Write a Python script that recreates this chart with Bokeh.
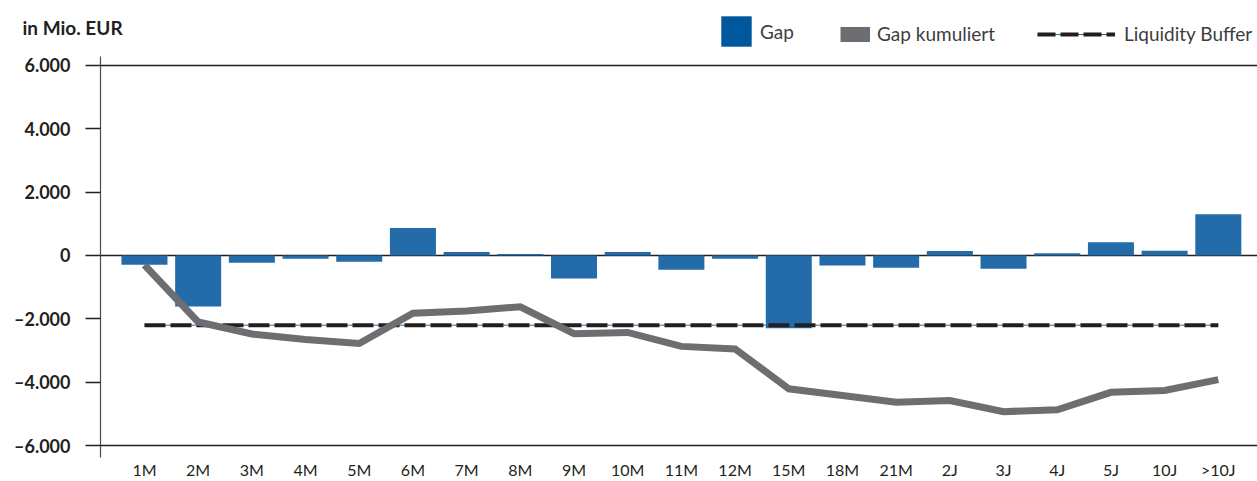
from bokeh.plotting import figure
from bokeh.models import Range1d, FixedTicker, Legend, LegendItem, Label, ColumnDataSource
from bokeh.embed import file_html
from bokeh.resources import INLINE

categories = ["1M", "2M", "3M", "4M", "5M", "6M", "7M", "8M", "9M", "10M", "11M",
              "12M", "15M", "18M", "21M", "2J", "3J", "4J", "5J", "10J", ">10J"]
gap = [-290, -1610, -230, -100, -200, 870, 110, 50, -730, 110, -450,
       -100, -2300, -320, -390, 140, -420, 70, 420, 150, 1300]
gap_kumuliert = [-300, -2100, -2480, -2650, -2780, -1820, -1750, -1620, -2470, -2430, -2870,
                 -2950, -4210, -4420, -4630, -4580, -4930, -4870, -4320, -4260, -3920]
liquidity_buffer = -2200
y_ticks = [-6000, -4000, -2000, 0, 2000, 4000, 6000]
y_tick_labels = ["–6.000", "–4.000", "–2.000", "0", "2.000", "4.000", "6.000"]

idx = list(range(len(categories)))
src = ColumnDataSource(dict(x=idx, gap=gap, cum=gap_kumuliert,
                            buf=[liquidity_buffer] * len(idx)))

FONT = "Lato"
DARK = "#231f20"
BAR = "#236ca9"
GREY = "#6d6e71"
DASH = "21 5"

# ---------------- header (unit title + legend) ----------------
h = figure(width=1257, height=50, output_backend="svg", toolbar_location=None,
           x_axis_type=None, y_axis_type=None,
           x_range=Range1d(0, 1), y_range=Range1d(0, 1),
           min_border_left=0, min_border_right=0, min_border_top=0, min_border_bottom=0)
h.outline_line_color = None
h.grid.visible = False

h.add_layout(Label(x=22, y=23, x_units="screen", y_units="screen", text="in Mio. EUR",
                   text_font=FONT, text_font_style="bold", text_font_size="19px",
                   text_color=DARK, text_baseline="middle"))

nan = float("nan")
leg_gap = h.vbar(x=[nan], top=[nan], width=0.5, fill_color="#00589c", line_color=None)
leg_cum = h.line(x=[nan, nan], y=[nan, nan], line_color=GREY, line_width=15)
leg_buf_thin = h.line(x=[nan, nan], y=[nan, nan], line_color=BAR, line_width=1)
leg_buf_dash = h.line(x=[nan, nan], y=[nan, nan], line_color=DARK, line_width=4,
                      line_dash="18 5", line_cap="butt")


def mk_legend(label, renderers, loc, gw, gh, standoff):
    lg = Legend(items=[LegendItem(label=label, renderers=renderers)], location=loc,
                orientation="horizontal", glyph_width=gw, glyph_height=gh,
                label_height=gh, label_standoff=standoff, padding=0, margin=0, spacing=0,
                border_line_color=None, background_fill_alpha=0,
                label_text_font=FONT, label_text_font_size="19px",
                label_text_color="#3d3d3f", label_text_baseline="middle")
    h.add_layout(lg, "center")


mk_legend("Gap", [leg_gap], (717, 0), 38, 38, 5)
mk_legend("Gap kumuliert", [leg_cum], (840, 5), 30, 22, 7)
mk_legend("Liquidity Buffer", [leg_buf_thin, leg_buf_dash], (1037, 5), 78, 22, 9)

# ---------------- main chart ----------------
p = figure(width=1257, height=431, output_backend="svg", toolbar_location=None,
           x_range=Range1d(-0.819, 20.73), y_range=Range1d(-6378, 6472),
           min_border_left=100, min_border_right=0, min_border_top=0, min_border_bottom=23)
p.outline_line_color = None
p.background_fill_color = "white"
p.border_fill_color = "white"

# grid: only -6000, 0, 6000
p.xgrid.visible = False
p.ygrid.ticker = FixedTicker(ticks=[y_ticks[0], 0, y_ticks[-1]])
p.ygrid.grid_line_color = DARK
p.ygrid.grid_line_width = 1.3

# y axis
p.yaxis.ticker = FixedTicker(ticks=y_ticks)
p.yaxis.major_label_overrides = {t: l for t, l in zip(y_ticks, y_tick_labels)}
p.yaxis.bounds = (-6441, 6283)
p.yaxis.axis_line_color = "#4d4d4f"
p.yaxis.axis_line_width = 1.2
p.yaxis.major_tick_out = 15
p.yaxis.major_tick_in = 0
p.yaxis.major_tick_line_color = DARK
p.yaxis.major_tick_line_width = 1.3
p.yaxis.minor_tick_line_color = None
p.yaxis.major_label_standoff = 15
p.yaxis.major_label_text_font = FONT
p.yaxis.major_label_text_font_style = "bold"
p.yaxis.major_label_text_font_size = "18px"
p.yaxis.major_label_text_color = DARK

# x axis
p.xaxis.ticker = FixedTicker(ticks=idx)
p.xaxis.major_label_overrides = {i: c for i, c in zip(idx, categories)}
p.xaxis.axis_line_color = None
p.xaxis.major_tick_line_color = None
p.xaxis.major_tick_out = 0
p.xaxis.major_tick_in = 0
p.xaxis.minor_tick_line_color = None
p.xaxis.minor_tick_out = 0
p.xaxis.major_label_standoff = 2
p.xaxis.major_label_text_font = FONT
p.xaxis.major_label_text_font_size = "16px"
p.xaxis.major_label_text_color = DARK

# bars
p.vbar(x="x", top="gap", bottom=0, width=0.857, source=src,
       fill_color=BAR, line_color=None)

# liquidity buffer: thin blue line under black dashes
p.line(x="x", y="buf", source=src, line_color=BAR, line_width=1)
p.line(x="x", y="buf", source=src, line_color=DARK, line_width=4,
       line_dash=DASH, line_cap="butt")

# cumulative gap
p.line(x="x", y="cum", source=src, line_color=GREY, line_width=7, line_join="miter")

open("out.html", "w").write(file_html([h, p], INLINE))
